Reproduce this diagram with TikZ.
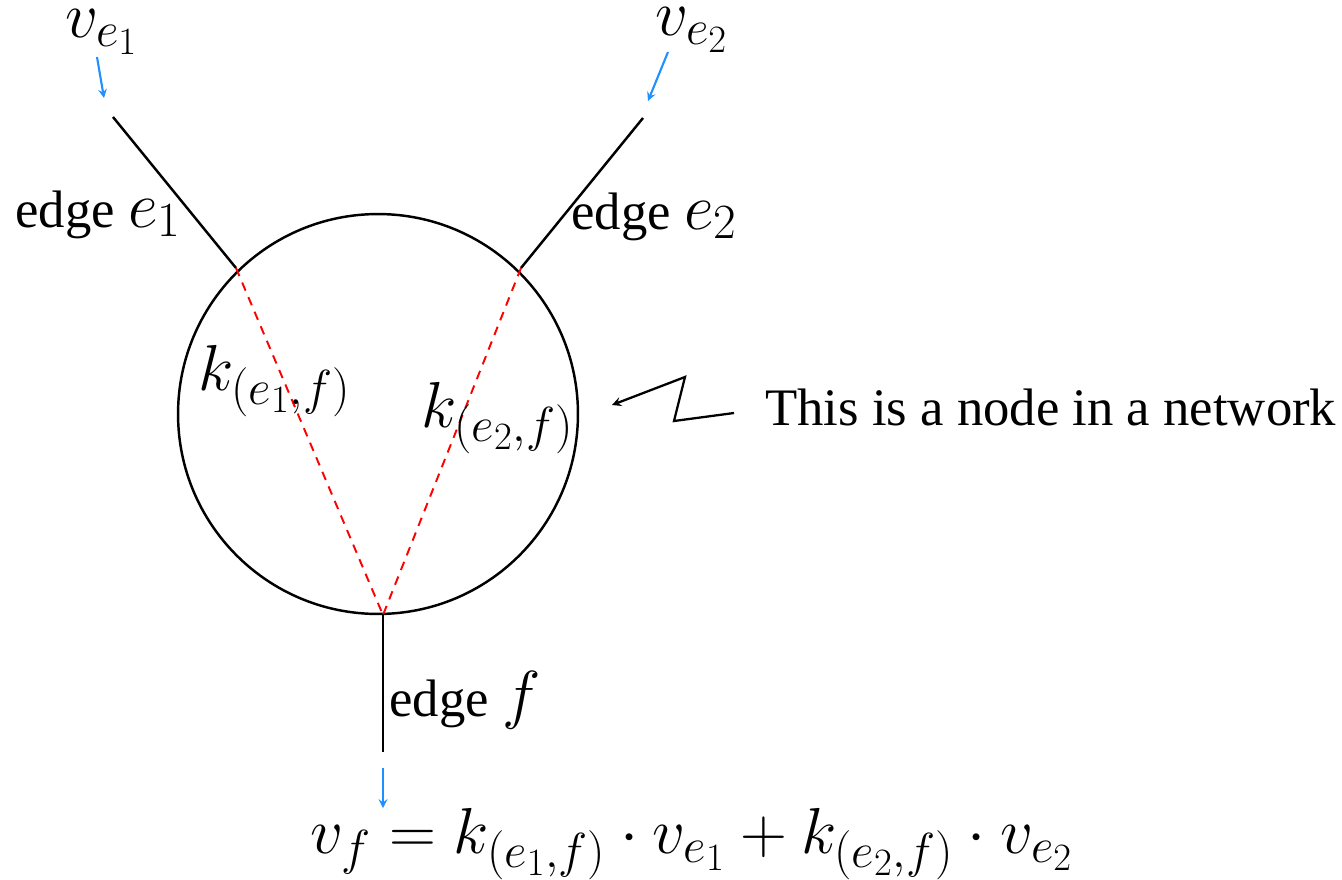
\RequirePackage{fix-cm}
\documentclass[tikz,border=0pt]{standalone}
\usepackage{fontspec}
\setmainfont{Liberation Serif}
\DeclareMathSizes{30}{37}{28}{22}
\definecolor{flowblue}{HTML}{1E90FF}
\definecolor{coefred}{HTML}{FF0000}
\begin{document}
\begin{tikzpicture}[
    x=0.02cm, y=-0.02cm,
    netnode/.style={circle, draw=black, line width=1.4pt,
                    minimum size=8cm, inner sep=0pt},
    edgeline/.style={line width=1.4pt, black},
    coefline/.style={line width=1.1pt, coefred, dash pattern=on 5pt off 4pt},
    flow/.style={->, >=stealth, line width=1.2pt, flowblue},
    pointer/.style={->, >=stealth, line width=1.3pt, black},
    lbl/.style={font=\fontsize{30}{36}\selectfont, anchor=base west, inner sep=0pt},
]
\useasboundingbox (0,0) rectangle (1342,879);

% --- Node of the network ---
\node[netnode] (nd) at (378,414) {};

% --- Edge end points ---
\coordinate (a1) at (113,117);
\coordinate (b1) at (236,268);
\coordinate (a2) at (643,118);
\coordinate (b2) at (521,268);
\coordinate (bf) at (383,615);
\coordinate (af) at (383,752);

% --- Edges ---
\draw[edgeline] (a1) -- (b1);
\draw[edgeline] (a2) -- (b2);
\draw[edgeline] (bf) -- (af);

% --- Local coefficients (dashed) ---
\draw[coefline] (b1) -- (bf);
\draw[coefline] (b2) -- (bf);

% --- Labels ---
\node[lbl] (ve1) at (65,37) {$v_{e_1}$};
\node[lbl] (ve2) at (655,35) {$v_{e_2}$};
\node[lbl] (le1) at (15,227) {edge $e_1$};
\node[lbl] (le2) at (571,229) {edge $e_2$};
\node[lbl] (k1) at (198,390) {$k_{(e_1,f)}$};
\node[lbl] (k2) at (421,427) {$k_{(e_2,f)}$};
\node[lbl] (lf) at (389,716) {edge $f$};
\node[lbl] (eq) at (310,853) {$v_f = k_{(e_1,f)}\cdot v_{e_1} + k_{(e_2,f)}\cdot v_{e_2}$};
\node[lbl] (note) at (765,425) {This is a node in a network};

% --- Symbols flowing along the edges ---
\coordinate (s1) at (97,57);
\coordinate (t1) at (104,98);
\coordinate (s2) at (668,52);
\coordinate (t2) at (648,101);
\coordinate (tf) at (383,808);
\coordinate (sf) at (383,768);
\draw[flow] (s1) -- (t1);
\draw[flow] (s2) -- (t2);
\draw[flow] (sf) -- (tf);

% --- Pointer to the node ---
\coordinate (z0) at (734,413);
\coordinate (z1) at (685,377);
\coordinate (z2) at (674,421);
\draw[pointer] (z0) -- (z2) -- (z1) -- (612,405);

\end{tikzpicture}
\end{document}
